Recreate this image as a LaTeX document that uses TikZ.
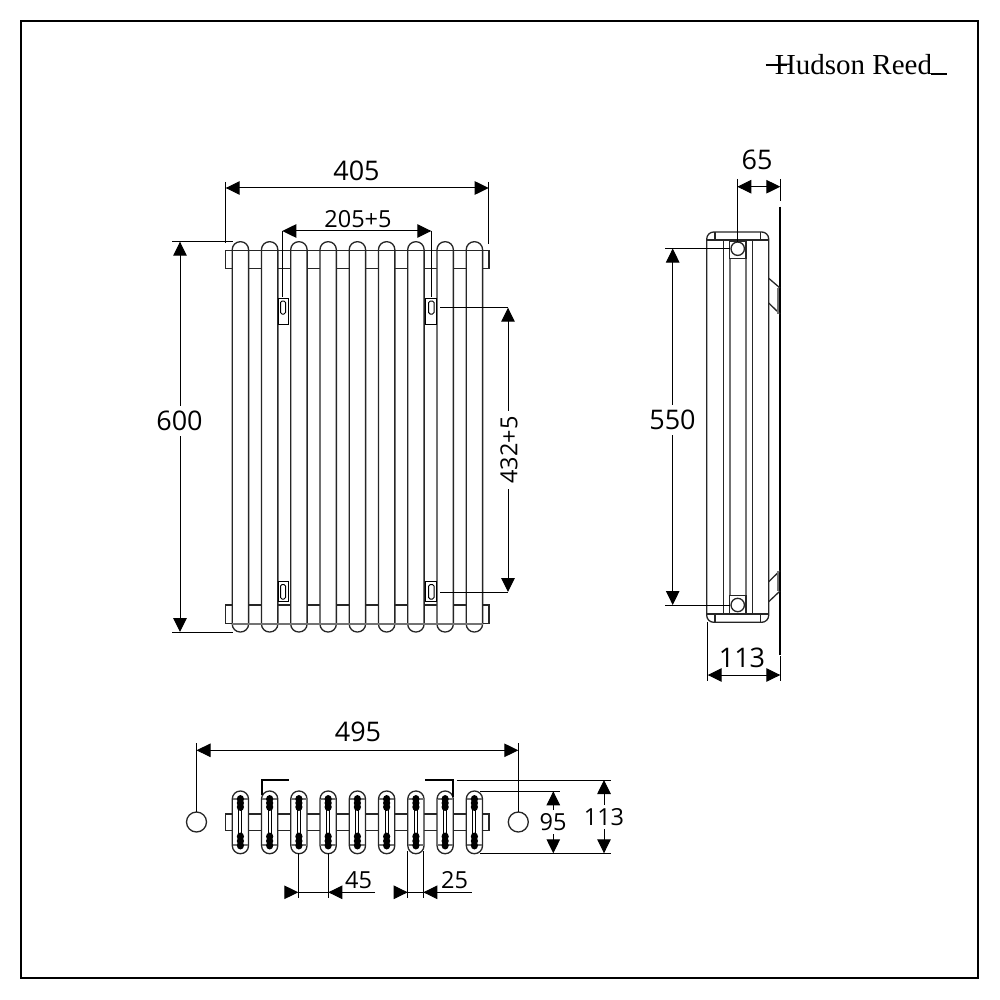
\documentclass[tikz,border=0pt]{standalone}
\usepackage{fontspec}
\newfontfamily\dimfont{Open Sans}
\newfontfamily\logofont{Liberation Serif}
\usetikzlibrary{arrows.meta}
\tikzset{
    thinline/.style={draw=black, line width=1pt},
    partline/.style={draw=black!85, line width=1.3pt},
    greyline/.style={draw=black!55, line width=1.6pt},
    thickline/.style={draw=black, line width=2pt},
    dimline/.style={thinline, {Triangle[length=14pt,width=13.5pt]}-{Triangle[length=14pt,width=13.5pt]}},
    dimtip/.style={thinline, -{Triangle[length=14pt,width=13.5pt]}},
    dimlabel/.style={font=\dimfont\fontsize{27}{30}\selectfont, inner sep=1pt},
    smalllabel/.style={font=\dimfont\fontsize{23.5}{26}\selectfont, inner sep=1pt},
    holdfill/.style={partline, fill=white},
}
\begin{document}
\begin{tikzpicture}[x=1pt, y=-1pt]
    \useasboundingbox (0, 0) rectangle (1000, 1000);
    \draw[line width=1.6pt] (21, 21) rectangle (978, 978);

    % logo
    \node[font=\logofont\fontsize{29}{32}\selectfont, inner sep=0pt] (logo) at (853.5, 65) {Hudson Reed};
    \draw[line width=1.4pt] (765.5, 65) -- (787, 65);
    \draw[line width=1.4pt] (931, 74) -- (946.5, 74);

    % front view
    \draw[partline, fill=white] (225.7, 250.7) rectangle (489, 268.7);
    \draw[partline, fill=white] (225.7, 605) rectangle (489, 623.7);
    \foreach \i in {0,...,8} {
        \draw[partline, fill=white, rounded corners=8pt]
            (240.4+29.25*\i-8.2, 241.7) rectangle (240.4+29.25*\i+8.2, 632);
    }
    \draw[partline] (225.7, 250.7) -- (489, 250.7);
    \draw[greyline] (232, 623.7) -- (483, 623.7);

    \draw[thinline, fill=white] (278, 298) rectangle (288.7, 324);
    \draw[thinline, rounded corners=1.5pt] (280.5, 301) rectangle (285.5, 314);
    \draw[thinline, fill=white] (425.7, 298) rectangle (436.7, 324);
    \draw[thinline, rounded corners=1.5pt] (428.7, 301) rectangle (434, 314);
    \draw[thinline, fill=white] (278, 581.3) rectangle (288.7, 601.7);
    \draw[thinline, rounded corners=1.5pt] (280.5, 584.5) rectangle (285.5, 599);
    \draw[thinline, fill=white] (425.7, 581.3) rectangle (436.7, 601.7);
    \draw[thinline, rounded corners=1.5pt] (428.7, 584.5) rectangle (434, 599);

    \draw[thinline] (225.7, 182) -- (225.7, 243);
    \draw[thinline] (488.7, 182) -- (488.7, 244);
    \draw[dimline] (225.7, 188) -- (488.7, 188);
    \node[dimlabel] (w405) at (356.5, 171) {405};

    \draw[thinline] (282.3, 231) -- (282.3, 297);
    \draw[thinline] (431.3, 231) -- (431.3, 297);
    \draw[dimline] (282.3, 231) -- (431.3, 231);
    \node[smalllabel] (w205) at (358, 219.5) {205+5};

    \draw[thinline] (172, 241.7) -- (233, 241.7);
    \draw[thinline] (172, 632) -- (233, 632);
    \draw[dimline] (180, 241.7) -- (180, 632);
    \node[dimlabel, fill=white, inner ysep=5pt] (h600) at (179.5, 421) {600};

    \draw[thinline] (440, 307.7) -- (508, 307.7);
    \draw[thinline] (440, 592) -- (508, 592);
    \draw[dimline] (508, 307.7) -- (508, 592);
    \node[smalllabel, fill=white, rotate=90, inner xsep=5pt] (h432) at (509, 450) {432+5};

    % side view
    \draw[partline, fill=white, rounded corners=7pt] (706.7, 232) rectangle (768.7, 622.3);
    \draw[partline] (706.7, 240) -- (768.7, 240);
    \draw[partline] (706.7, 614) -- (768.7, 614);
    \draw[partline] (715, 232) -- (715, 240);
    \draw[partline] (760.7, 232) -- (760.7, 240);
    \draw[partline] (715, 614) -- (715, 622.3);
    \draw[partline] (760.7, 614) -- (760.7, 622.3);
    \draw[partline] (723.3, 240) -- (723.3, 614);
    \draw[partline] (752.3, 240) -- (752.3, 614);
    \draw[greyline] (729.7, 258) -- (729.7, 596);
    \draw[greyline] (746, 258) -- (746, 596);
    \draw[holdfill] (729.3, 241) rectangle (746, 258.7);
    \draw[holdfill] (729.3, 595.3) rectangle (746, 614);
    \draw[partline] (737.7, 248.7) circle[radius=6.7];
    \draw[partline] (737.7, 605) circle[radius=6.7];

    \draw[thickline] (780, 206.7) -- (780, 655);
    \draw[partline] (768.7, 278.3) -- (780, 288);
    \draw[partline] (768.7, 303) -- (780, 314);
    \draw[greyline] (778, 288) -- (778, 314);
    \draw[partline] (768.7, 581.7) -- (780, 570.7);
    \draw[partline] (768.7, 601.7) -- (780, 591);
    \draw[greyline] (778, 571) -- (778, 591);

    \draw[thinline] (737.3, 179) -- (737.3, 242);
    \draw[thinline] (780.3, 179) -- (780.3, 201);
    \draw[dimline] (737.3, 186.7) -- (780.3, 186.7);
    \node[dimlabel] (w65) at (757, 160) {65};

    \draw[thinline] (665, 248.5) -- (730, 248.5);
    \draw[thinline] (665, 605) -- (730, 605);
    \draw[dimline] (672.7, 248.5) -- (672.7, 605);
    \node[dimlabel, fill=white, inner ysep=5pt] (h550) at (672.5, 420) {550};

    \draw[thinline] (707.7, 622) -- (707.7, 681);
    \draw[thinline] (780.3, 656) -- (780.3, 681);
    \draw[dimline] (707.7, 675) -- (780.3, 675);
    \node[dimlabel] (w113) at (742, 658) {113};

    % plan view
    \draw[partline, fill=white] (225.3, 814) rectangle (489, 830.7);
    \foreach \i in {0,...,8} {
        \draw[partline, fill=white, rounded corners=8pt]
            (240.4+29.25*\i-8.1, 791) rectangle (240.4+29.25*\i+8.1, 853.7);
        \draw[greyline] (240.4+29.25*\i-7.6, 799) -- (240.4+29.25*\i+7.6, 799);
        \draw[greyline] (240.4+29.25*\i-7.6, 845) -- (240.4+29.25*\i+7.6, 845);
        \draw[thinline] (240.4+29.25*\i-1.5, 805) -- (240.4+29.25*\i-1.5, 840);
        \draw[thinline] (240.4+29.25*\i+1.5, 805) -- (240.4+29.25*\i+1.5, 840);
        \foreach \y in {799, 803, 807, 836.5, 841, 845.5} {
            \fill (240.4+29.25*\i, \y) ellipse[x radius=3.6, y radius=4];
        }
    }
    \draw[partline] (196.5, 822) circle[radius=10];
    \draw[partline] (518.3, 822) circle[radius=10];
    \draw[thickline] (261.7, 795) -- (261.7, 780) -- (289, 780);
    \draw[thickline] (425, 780) -- (452.7, 780) -- (452.7, 797);

    \draw[thinline] (196.5, 743) -- (196.5, 812);
    \draw[thinline] (518.3, 743) -- (518.3, 812);
    \draw[dimline] (196.5, 750.3) -- (518.3, 750.3);
    \node[dimlabel] (w495) at (358, 732) {495};

    \draw[thinline] (480, 791.3) -- (560, 791.3);
    \draw[thinline] (480, 853.3) -- (610.7, 853.3);
    \draw[thinline] (456.7, 780) -- (610.7, 780);
    \draw[dimline] (553.3, 791.3) -- (553.3, 853.3);
    \node[smalllabel, fill=white, inner ysep=3pt] (h95) at (553, 822) {95};
    \draw[dimline] (604, 780) -- (604, 853.3);
    \node[smalllabel, fill=white, inner ysep=3pt] (h113) at (604, 817) {113};

    \draw[thinline] (298.3, 853) -- (298.3, 898);
    \draw[thinline] (328.3, 853) -- (328.3, 898);
    \draw[dimtip] (285, 892.3) -- (298.3, 892.3);
    \draw[thinline] (298.3, 892.3) -- (328.3, 892.3);
    \draw[dimtip] (375, 892.3) -- (328.3, 892.3);
    \node[smalllabel] (w45) at (358.5, 880.5) {45};

    \draw[thinline] (407.7, 851) -- (407.7, 898);
    \draw[thinline] (423.3, 851) -- (423.3, 898);
    \draw[dimtip] (394, 892.3) -- (407.7, 892.3);
    \draw[thinline] (407.7, 892.3) -- (423.3, 892.3);
    \draw[dimtip] (471.7, 892.3) -- (423.3, 892.3);
    \node[smalllabel] (w25) at (454.5, 880) {25};
\end{tikzpicture}
\end{document}
